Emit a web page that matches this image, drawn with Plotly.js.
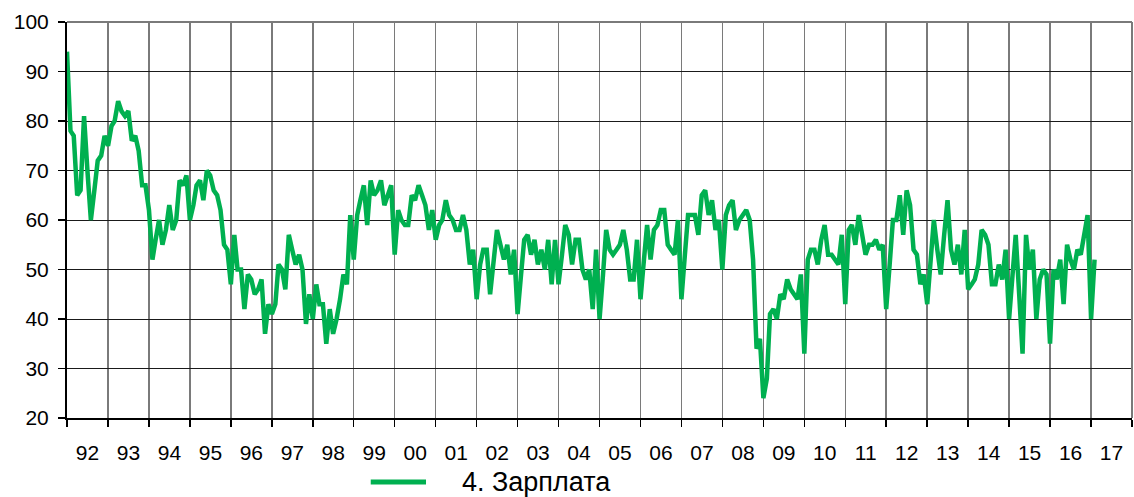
<!DOCTYPE html>
<html>
<head>
<meta charset="utf-8">
<script src="https://cdn.plot.ly/plotly-3.0.1.min.js"></script>
<style>html,body{margin:0;padding:0;background:#fff;}#chart{width:1134px;height:497px;}</style>
</head>
<body>
<div id="chart"></div>
<script>
// Monthly values, one array per year (Jan..Dec)
const y1992 = [94,78,77,65,66,81,70,60,66,72,73,77];
const y1993 = [75,79,80,84,82,81,82,76,77,74,67,67];
const y1994 = [62,52,56,60,55,58,63,58,60,68,67,69];
const y1995 = [60,63,67,68,64,70,69,66,65,62,55,54];
const y1996 = [47,57,50,50,42,49,48,45,46,48,37,43];
const y1997 = [41,43,51,50,46,57,54,51,53,50,39,45];
const y1998 = [40,47,43,43,35,42,37,40,44,49,47,61];
const y1999 = [52,61,64,67,59,68,65,66,68,63,65,67];
const y2000 = [53,62,60,59,59,65,64,67,65,63,58,62];
const y2001 = [56,59,60,64,61,60,58,58,61,58,51,54];
const y2002 = [44,51,54,54,45,51,58,55,52,55,49,54];
const y2003 = [41,49,56,57,53,56,51,54,50,56,47,56];
const y2004 = [47,53,59,57,51,56,56,50,48,50,42,54];
const y2005 = [40,49,58,54,53,54,55,58,54,48,48,56];
const y2006 = [44,52,59,52,58,59,62,62,55,54,53,60];
const y2007 = [44,53,61,61,61,57,65,66,61,64,58,60];
const y2008 = [50,61,63,64,58,60,61,62,60,52,34,36];
const y2009 = [24,28,41,42,40,45,44,48,46,45,44,49];
const y2010 = [33,52,54,54,51,56,59,53,53,52,51,57];
const y2011 = [43,58,59,55,61,57,53,55,55,56,54,55];
const y2012 = [42,51,60,60,65,57,66,63,54,53,47,49];
const y2013 = [43,52,60,54,49,57,64,54,51,55,49,58];
const y2014 = [46,47,48,51,58,57,55,47,47,51,48,54];
const y2015 = [40,49,57,45,33,57,50,54,40,48,50,49];
const y2016 = [35,50,48,52,43,55,52,50,54,53,57,61];
const y2017 = [40,52];

const seriesName = "4. Зарплата";
const yearList = [1992,1993,1994,1995,1996,1997,1998,1999,2000,2001,2002,2003,2004,
  2005,2006,2007,2008,2009,2010,2011,2012,2013,2014,2015,2016,2017];
const yearData = [y1992,y1993,y1994,y1995,y1996,y1997,y1998,y1999,y2000,y2001,y2002,y2003,y2004,
  y2005,y2006,y2007,y2008,y2009,y2010,y2011,y2012,y2013,y2014,y2015,y2016,y2017];

const xs = [], ys = [];
yearList.forEach((yr, i) => {
  yearData[i].forEach((v, m) => {
    xs.push(yr + "-" + String(m + 1).padStart(2, "0") + "-01");
    ys.push(v);
  });
});

const green = "#00B050";
const font = "Arial, 'Liberation Sans', sans-serif";

const trace = {
  x: xs, y: ys, type: "scatter", mode: "lines", name: seriesName,
  line: {color: green, width: 4.5, shape: "linear"},
  hoverinfo: "skip"
};

const layout = {
  width: 1134, height: 497,
  margin: {l: 67, r: 2, t: 22, b: 79},
  paper_bgcolor: "#fff", plot_bgcolor: "#fff",
  showlegend: false,
  xaxis: {
    type: "date",
    range: ["1992-01-01", "2018-01-01"],
    tick0: "1992-01-01", dtick: "M12",
    tickformat: "%y", ticklabelmode: "period",
    showgrid: true, gridcolor: "#7a7a7a", gridwidth: 1.5,
    showline: true, linecolor: "#000", linewidth: 2,
    ticks: "outside", ticklen: 7, tickwidth: 1.5, tickcolor: "#000",
    ticklabelstandoff: 8,
    tickfont: {family: font, size: 21, color: "#000"},
    zeroline: false, fixedrange: true
  },
  yaxis: {
    range: [20, 100], tick0: 20, dtick: 10,
    showgrid: true, gridcolor: "#1a1a1a", gridwidth: 1,
    showline: true, linecolor: "#000", linewidth: 2,
    ticks: "outside", ticklen: 7, tickwidth: 1.5, tickcolor: "#000",
    ticklabelstandoff: 5,
    tickfont: {family: font, size: 21, color: "#000"},
    zeroline: false, fixedrange: true
  },
  shapes: [
    {type: "line", xref: "paper", yref: "paper", x0: 0, x1: 1, y0: 1, y1: 1,
     line: {color: "#7a7a7a", width: 2}},
    {type: "line", xref: "paper", yref: "paper", x0: 1, x1: 1, y0: 0, y1: 1,
     line: {color: "#7a7a7a", width: 2}},
    {type: "line", xref: "paper", yref: "paper", x0: 0.2852, x1: 0.3371, y0: -0.1616, y1: -0.1616,
     line: {color: green, width: 5}}
  ],
  annotations: [
    {xref: "paper", yref: "paper", x: 0.369, y: -0.1616, xanchor: "left", yanchor: "middle",
     text: seriesName, showarrow: false,
     font: {family: font, size: 27, color: "#000"}}
  ]
};

Plotly.newPlot("chart", [trace], layout, {staticPlot: true, displayModeBar: false});
</script>
</body>
</html>
